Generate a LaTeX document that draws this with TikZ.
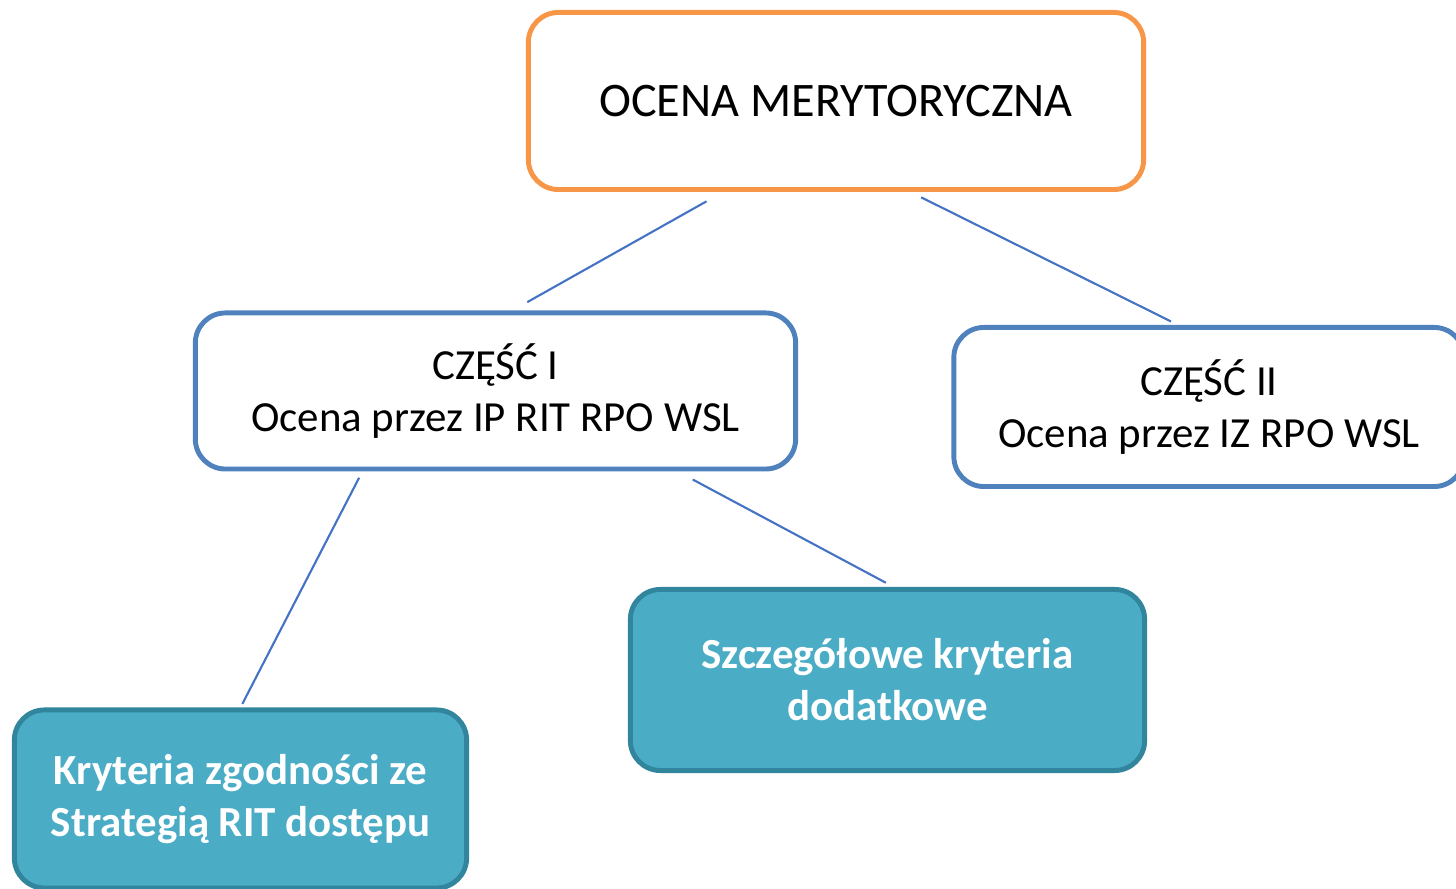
\documentclass[tikz,border=0pt]{standalone}
\usepackage{fontspec}
\setmainfont{Carlito}
\usepackage{xcolor}
\usetikzlibrary{calc}

\definecolor{ocenaorange}{HTML}{F79646}
\definecolor{czescblue}{HTML}{4F81BD}
\definecolor{kryteriafill}{HTML}{4BACC6}
\definecolor{kryteriadraw}{HTML}{31859C}
\definecolor{linkblue}{HTML}{4472C4}

\begin{document}
\begin{tikzpicture}[
    x=0.01cm, y=-0.01cm,
    box/.style={
        draw,
        rectangle,
        rounded corners=0.3cm,
        line width=1.4pt,
        fill=white,
        align=center,
        inner sep=0pt,
        font=\fontsize{12.2}{14.8}\selectfont
    },
    mainbox/.style={box, draw=ocenaorange, font=\fontsize{13.7}{16}\selectfont},
    partbox/.style={box, draw=czescblue},
    critbox/.style={box, draw=kryteriadraw, fill=kryteriafill, text=white,
        font=\fontsize{12.2}{14.8}\selectfont\bfseries},
    link/.style={draw=linkblue, line width=0.6pt}
]
\useasboundingbox (0,0) rectangle (1456,889);

% Nodes
\node[mainbox, minimum width=6.15cm, minimum height=1.77cm] (ocena) at (836,101) {OCENA MERYTORYCZNA};

\node[partbox, minimum width=6.0cm, minimum height=1.56cm] (czesc1) at (495.5,391) {CZĘŚĆ I\\Ocena przez IP RIT RPO WSL};
\node[partbox, minimum width=5.1cm, minimum height=1.59cm] (czesc2) at (1209,407) {CZĘŚĆ II\\Ocena przez IZ RPO WSL};

\node[critbox, minimum width=4.52cm, minimum height=1.78cm] (zgodnosc) at (240.5,799) {Kryteria zgodności ze\\Strategią RIT dostępu};
\node[critbox, minimum width=5.14cm, minimum height=1.81cm] (dodatkowe) at (887.5,680) {Szczegółowe kryteria\\dodatkowe};

% Connections
\draw[link, shorten <=0.19cm, shorten >=0.17cm]
    ($(ocena.south west)!0.318!(ocena.south east)$) -- ($(czesc1.north west)!0.528!(czesc1.north east)$);
\draw[link, shorten <=0.12cm, shorten >=0.08cm]
    ($(ocena.south west)!0.62!(ocena.south east)$) -- ($(czesc2.north west)!0.44!(czesc2.north east)$);

\draw[link, shorten <=0.07cm, shorten >=0.04cm]
    ($(czesc1.south west)!0.28!(czesc1.south east)$) -- (zgodnosc.north);
\draw[link, shorten <=0.17cm, shorten >=0.09cm]
    ($(czesc1.south west)!0.801!(czesc1.south east)$) -- ($(dodatkowe.north west)!0.512!(dodatkowe.north east)$);

\end{tikzpicture}
\end{document}
